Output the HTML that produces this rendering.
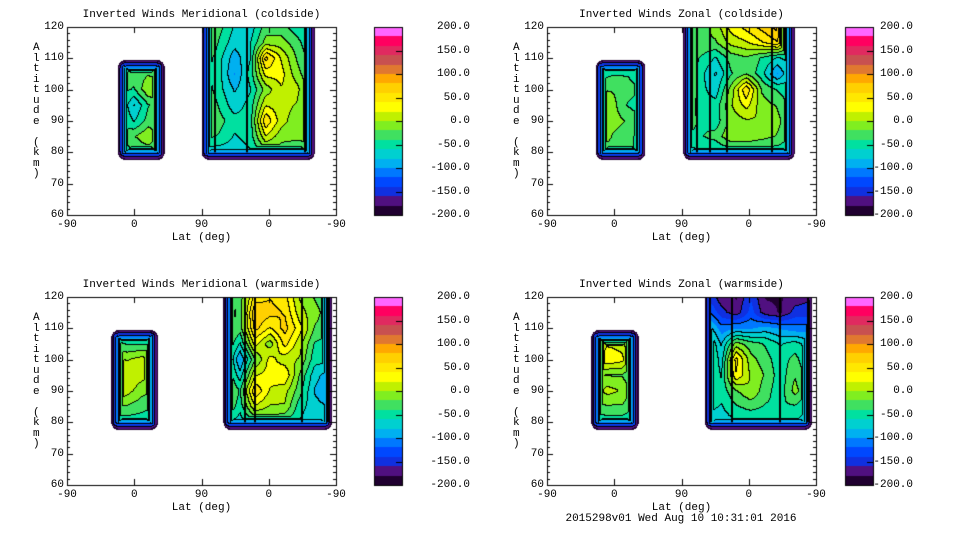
<!DOCTYPE html>
<html><head><meta charset="utf-8">
<style>
body{margin:0;background:#fff;width:960px;height:540px;overflow:hidden;position:relative;font-family:"Liberation Mono","DejaVu Sans Mono",monospace;}
.t{position:absolute;font-size:11px;color:#000;white-space:pre;line-height:11px;}
canvas{position:absolute;left:0;top:0;}
</style></head>
<body>
<canvas id="cv" width="960" height="540"></canvas>
<div id="labels"></div>
<script>
// ---- data (values in m/s, rows = altitude 80..; cols = west->east across blob) ----
const palette=["#200030","#501080","#1030e0","#0048ff","#0078ff","#00b0f0","#00d0d0","#00e0a0","#40e060","#80ee20","#c0f000","#ffff00","#ffe800","#ffd000","#ffa800","#e07830","#c85050","#e02a60","#ff0060","#ff66ff"];
const cbTicks=["200.0","150.0","100.0","50.0","0.0","-50.0","-100.0","-150.0","-200.0"];
const cbTickVals=[200,150,100,50,0,-50,-100,-150,-200];
const xTickLabels=["-90","0","90","0","-90"];
const yTickVals=[60,70,80,90,100,110,120];
const titles=["Inverted Winds Meridional (coldside)","Inverted Winds Zonal (coldside)","Inverted Winds Meridional (warmside)","Inverted Winds Zonal (warmside)"];
const leftExt=[[71,128],[68,129],[62,119],[62,120]];
const rightExt=[[183,329],[185,329],[212,352],[214,352]];
const leftAlt=[77.5,109.5];
const rightAlt=[77.5,120];
const stripes=[[198,241,319],[201,218,241,301],[238,252,315,349],[218,248,312,349]];
const tlLeft=[[-60,-50,-40,-60],[-50,-30,-10,-40],[-40,-70,-40,-40],[-40,-90,-50,-30],[-40,-50,-10,-10],[-50,-40,-30,-40],[-80,-80,-80,-80]];
const tlRight=[[-80,-80,-80,-70,-40,-40,-50,-60],[-40,-50,-70,-60,10,-20,-20,-10],[-30,-40,-60,-60,50,0,-20,-40],[-20,-50,-80,-60,10,0,-10,-50],[-30,-60,-90,-70,-20,10,0,-50],[-40,-60,-110,-60,20,20,-20,-50],[-30,-60,-100,-70,60,10,-30,-60],[-10,-50,-80,-70,-20,-20,-40,-70],[-50,-40,-70,-80,-40,-40,-60,-80]];
const trLeft=[[-50,-40,-40,-60],[0,-30,-40,-60],[20,-20,-30,-50],[0,-20,-50,-60],[-30,-30,-40,-50],[-60,-50,-50,-60],[-80,-80,-80,-80]];
const trRight=[[-80,-70,-70,-60,-60,-60,-60,-70],[-50,-50,-40,-10,-10,-20,-30,-50],[-40,-50,-60,-20,-10,-10,-20,-50],[-20,-60,-60,-10,20,-20,-30,-60],[-10,-60,-80,-20,50,-30,-50,-60],[10,-60,-90,-50,-30,-60,-110,-60],[-30,-50,-70,-40,-30,-50,-70,-60],[-40,-30,-30,0,10,30,50,-40],[-60,-40,-20,20,40,60,80,-50]];
const blLeft=[[-60,-60,-60,-60],[-30,-30,-40,-50],[20,0,-20,-30],[20,10,0,-10],[0,-10,0,-10],[-40,-50,-50,-50],[-80,-80,-80,-80]];
const blRight=[[-60,-80,-50,-40,-50,-70,-80,-80],[-20,-60,10,-10,-10,-60,-80,-90],[-10,-50,50,10,0,-40,-90,-110],[-20,-80,10,20,30,-30,-80,-100],[-20,-110,-30,20,0,-10,-60,-60],[-20,-70,20,-20,40,0,-50,-60],[-10,-40,60,30,60,20,-30,-40],[0,-40,70,60,50,0,-20,-40],[-20,-40,40,50,40,-10,-30,-50]];
const brLeft=[[-70,-60,-60,-70],[-30,-30,-30,-50],[-20,0,-10,-40],[-20,-30,-30,-50],[10,30,20,-40],[-30,10,0,-50],[-80,-80,-80,-80]];
const brRight=[[-80,-80,-70,-70,-70,-70,-70,-80],[-60,-70,-50,-40,-50,-50,-50,-70],[-40,-60,-30,-10,-40,-60,-20,-50],[-30,-70,30,-10,-30,-60,-30,-60],[-20,-80,40,-20,-40,-60,-40,-70],[-30,-90,-20,-40,-50,-70,-60,-80],[-70,-120,-110,-110,-100,-110,-120,-120],[-120,-160,-180,-140,-180,-190,-160,-160],[-150,-180,-190,-150,-190,-190,-180,-170]];
const leftGrids=[tlLeft,trLeft,blLeft,brLeft];
const rightGrids=[tlRight,trRight,blRight,brRight];

const panels=[{x0:67,y0:27,cb:374,lab:470},{x0:547,y0:27,cb:845,lab:913},{x0:67,y0:297,cb:374,lab:470},{x0:547,y0:297,cb:845,lab:913}];
const W=269,H=188;
const cv=document.getElementById('cv');const ctx=cv.getContext('2d');
const labels=document.getElementById('labels');
function xs(u,p){return p.x0+u/360*W;}
function ys(a,p){return p.y0+(120-a)/60*H;}
function hex(c){return [parseInt(c.substr(1,2),16),parseInt(c.substr(3,2),16),parseInt(c.substr(5,2),16)];}
const rgb=palette.map(hex);
function interp(g,fx,fy){
  const nr=g.length,nc=g[0].length;
  fx=Math.max(0,Math.min(nc-1,fx));fy=Math.max(0,Math.min(nr-1,fy));
  const c0=Math.min(nc-2,Math.floor(fx)),r0=Math.min(nr-2,Math.floor(fy));
  const tx=fx-c0,ty=fy-r0;
  return g[r0][c0]*(1-tx)*(1-ty)+g[r0][c0+1]*tx*(1-ty)+g[r0+1][c0]*(1-tx)*ty+g[r0+1][c0+1]*tx*ty;
}
function blobVal(px,py,p,ext,alts,g,cutTop){
  const xL=xs(ext[0],p)-2,xR=xs(ext[1],p)+2,yB=ys(alts[0],p),yT=ys(alts[1],p);
  let dx=Math.min(px-xL,xR-px),dyb=yB-py,dyt=cutTop?999:py-yT;
  let dy=Math.min(dyb,dyt);
  if(dx<0||dy<0)return null;
  const R=8;let d;
  if(dx<R&&dy<R){d=R-Math.hypot(R-dx,R-dy);if(d<0)return null;}else d=Math.min(dx,dy);
  const u=(px-p.x0)/W*360,a=120-(py-p.y0)/H*60;
  const fx=(u-ext[0])/(ext[1]-ext[0])*(g[0].length-1);
  const fy=(a-80)/5;
  const v=interp(g,fx,fy)+8;
  const slope=(dy<dx)?12:16;
  return Math.min(v,-199+d*slope);
}
function lvl(v){return Math.max(0,Math.min(19,Math.floor((v+200)/20)));}
const img=ctx.createImageData(960,540);
for(let i=0;i<img.data.length;i++)img.data[i]=255;
panels.forEach((p,k)=>{
  const L=new Int16Array(W*H).fill(-1);
  for(let j=0;j<H;j++)for(let i=0;i<W;i++){
    const px=p.x0+i+0.5,py=p.y0+j+0.5;
    let v=blobVal(px,py,p,leftExt[k],leftAlt,leftGrids[k],false);
    if(v===null)v=blobVal(px,py,p,rightExt[k],rightAlt,rightGrids[k],true);
    if(v!==null)L[j*W+i]=lvl(v);
  }
  for(let j=0;j<H;j++)for(let i=0;i<W;i++){
    const l=L[j*W+i];if(l<0)continue;
    let c=rgb[l];
    const r=i+1<W?L[j*W+i+1]:l,b=j+1<H?L[(j+1)*W+i]:l;
    const m=Math.min(l,r<0?l:r,b<0?l:b);
    if((m>=6||m%2===1)&&((r>=0&&r!==l)||(b>=0&&b!==l)))c=[0,0,0];
    const o=((p.y0+j)*960+p.x0+i)*4;img.data[o]=c[0];img.data[o+1]=c[1];img.data[o+2]=c[2];
  }
});
panels.forEach(p=>{
  for(let n=0;n<20;n++){
    const y1=Math.round(p.y0+H-(n+1)*H/20),y2=Math.round(p.y0+H-n*H/20);
    for(let y=y1;y<y2;y++)for(let x=p.cb;x<p.cb+28;x++){const o=(y*960+x)*4;img.data[o]=rgb[n][0];img.data[o+1]=rgb[n][1];img.data[o+2]=rgb[n][2];}
  }
});
ctx.putImageData(img,0,0);
ctx.fillStyle='#000';
panels.forEach((p,k)=>{
  stripes[k].forEach(u=>{
    const x=xs(u,p);ctx.fillRect(Math.round(x)-1,ys(120,p),2,ys(80,p)-ys(120,p));
  });
});
ctx.strokeStyle='#000';ctx.lineWidth=1;
function addText(txt,x,y,align,name){
  const d=document.createElement('div');d.className='t';d.textContent=txt;
  
  
  d.style.top=(y-6)+'px';
  if(align==='c'){d.style.left=(x-200)+'px';d.style.width='400px';d.style.textAlign='center';}
  else if(align==='r'){d.style.left=(x-200)+'px';d.style.width='200px';d.style.textAlign='right';}
  else d.style.left=x+'px';
  labels.appendChild(d);
}
panels.forEach((p,k)=>{
  ctx.strokeRect(p.x0+0.5,p.y0+0.5,W,H);
  ctx.beginPath();
  [0,90,180,270,360].forEach(u=>{const x=Math.round(xs(u,p))+0.5;ctx.moveTo(x,p.y0+H);ctx.lineTo(x,p.y0+H-6);ctx.moveTo(x,p.y0);ctx.lineTo(x,p.y0+6);});
  for(let a=60;a<=120;a+=2){const y=Math.round(ys(a,p))+0.5;const len=a%10===0?6:3;ctx.moveTo(p.x0,y);ctx.lineTo(p.x0+len,y);ctx.moveTo(p.x0+W,y);ctx.lineTo(p.x0+W-len,y);}
  ctx.stroke();
  ctx.strokeRect(p.cb+0.5,p.y0+0.5,28,H);
  ctx.beginPath();
  cbTickVals.forEach(v=>{const y=Math.round(p.y0+H-(v+200)/400*H)+0.5;ctx.moveTo(p.cb+28,y);ctx.lineTo(p.cb+22,y);});
  ctx.stroke();
  addText(titles[k],p.x0+W/2,p.y0-11,'c','panel-title');
  xTickLabels.forEach((t,i)=>addText(t,xs(i*90,p),p.y0+H+11,'c','x-tick-label'));
  yTickVals.forEach(a=>addText(String(a),p.x0-3,ys(a,p)+1,'r','y-tick-label'));
  addText('Lat (deg)',p.x0+W/2,p.y0+H+24,'c','x-axis-title');
  cbTicks.forEach((t,i)=>addText(t,p.lab,p.y0+H-(cbTickVals[i]+200)/400*H+1,'r','colorbar-tick-label'));
  const yl="Altitude (km)";
  for(let i=0;i<yl.length;i++)addText(yl[i],p.x0-34,p.y0+22+i*10.5,'l','y-axis-title');
});
addText('2015298v01 Wed Aug 10 10:31:01 2016',681,520,'c','footer-timestamp');
</script>
</body></html>
